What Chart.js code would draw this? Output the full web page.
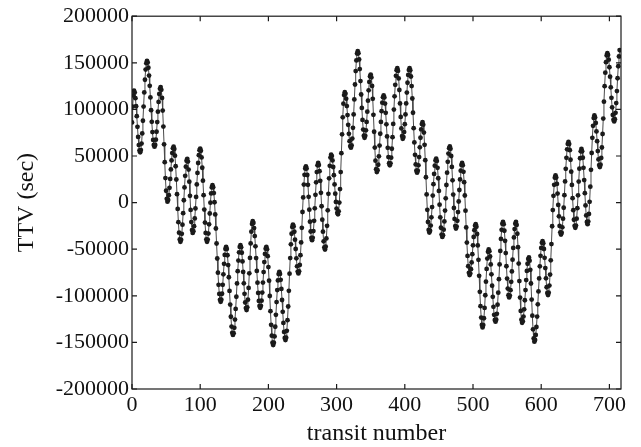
<!DOCTYPE html>
<html>
<head>
<meta charset="utf-8">
<script src="https://cdn.jsdelivr.net/npm/chart.js@4.4.1/dist/chart.umd.min.js"></script>
<style>
html,body{margin:0;padding:0;background:#ffffff;}
#wrap{width:641px;height:447px;position:relative;}
</style>
</head>
<body>
<div id="wrap"><canvas id="c" width="641" height="447"></canvas></div>
<script>
const xTickValues = [0, 100, 200, 300, 400, 500, 600, 700];
const yTickValues = [-200000, -150000, -100000, -50000, 0, 50000, 100000, 150000, 200000];
const xAxisTitle = 'transit number';
const yAxisTitle = 'TTV (sec)';

// TTV (sec) for transit numbers 0, 1, 2, ...
const ttvSeconds = [
  86000, 103000, 115000, 120000, 118000, 112000, 103500, 92700, 81300, 70500,
  61700, 56000, 54000, 56400, 63300, 74200, 87800, 103000, 118200, 131800,
  142700, 149600, 152000, 150200, 144700, 136300, 125300, 112800, 99200, 86700,
  75700, 67300, 61800, 60000, 61900, 67500, 76000, 86400, 97600, 108000,
  116500, 122100, 124000, 121000, 112300, 98700, 81600, 62500, 43400, 26300,
  12700, 4000, 1000, 2800, 7900, 15800, 25400, 35600, 45300, 53100,
  58200, 60000, 57600, 50300, 39000, 24800, 9000, -6800, -21000, -32300,
  -39600, -42000, -39900, -33500, -23700, -11300, 2500, 16300, 28700, 38500,
  44900, 47000, 44000, 35400, 22400, 7300, -7900, -20900, -29500, -32500,
  -30700, -25400, -17000, -6300, 6100, 19500, 31800, 42500, 50900, 56200,
  58000, 55600, 48500, 37400, 23500, 8000, -7500, -21400, -32500, -39600,
  -42000, -39700, -33200, -23300, -11700, -100, 9800, 16300, 18600, 16500,
  10200, 400, -12700, -27800, -43900, -60000, -75200, -88200, -98000, -104300,
  -106400, -104200, -97800, -88200, -77000, -65700, -56100, -49700, -47500, -49800,
  -56500, -67000, -80100, -94800, -109400, -122500, -133000, -139700, -142000, -140100,
  -134400, -125500, -114100, -101000, -86700, -73600, -62200, -53300, -47600, -45700,
  -47800, -53800, -63100, -74400, -86600, -97900, -107200, -113200, -115300, -112400,
  -104200, -91500, -75900, -59400, -43800, -31200, -22900, -20000, -21900, -27300,
  -35900, -46900, -59500, -73300, -85900, -96900, -105500, -110900, -112800, -110800,
  -105200, -96500, -85800, -74500, -63800, -55100, -49500, -47500, -50000, -57500,
  -69200, -83800, -100200, -116500, -131100, -142800, -150300, -152800, -150400, -143600,
  -133200, -120400, -106700, -93900, -83500, -76700, -74300, -76500, -82900, -92600,
  -104500, -117200, -129100, -138800, -145200, -147400, -144900, -137600, -126200, -111500,
  -94700, -76300, -59500, -44800, -33400, -26100, -23600, -25600, -31300, -39800,
  -49800, -59800, -68400, -74000, -76000, -73700, -66900, -56400, -42700, -27100,
  -10100, 5600, 19300, 29800, 36600, 38900, 36500, 29600, 19100, 6200,
  -7600, -20500, -31000, -37900, -40300, -37800, -30600, -19600, -6100, 8300,
  21800, 32800, 40000, 42500, 40300, 33700, 23400, 10500, -3900, -18300,
  -31200, -41500, -48100, -50300, -47300, -38400, -24900, -8300, 9400, 26000,
  39500, 48300, 51400, 49900, 45300, 38200, 29400, 19500, 9600, 700,
  -6400, -11000, -12500, -9400, 0, 14500, 32700, 53000, 73300, 91500,
  106100, 115400, 118500, 116700, 111500, 103600, 93900, 83500, 73800, 65900,
  60700, 58900, 61400, 68700, 80200, 94600, 110700, 126700, 141100, 152600,
  159900, 162400, 160200, 153600, 143300, 130400, 116000, 101600, 88700, 78400,
  71800, 69600, 71600, 77500, 86600, 97600, 109400, 120500, 129500, 135400,
  137400, 134300, 125200, 111300, 94200, 76000, 59000, 45000, 35900, 32800,
  34800, 40600, 49700, 61200, 73900, 86600, 98100, 107200, 113000, 115000,
  112800, 106200, 96300, 84000, 71000, 58800, 48800, 42300, 40000, 42100,
  48200, 57800, 70200, 84400, 99800, 114000, 126400, 136000, 142100, 144200,
  141300, 133200, 120800, 106400, 91900, 79600, 71400, 68500, 70300, 75700,
  84100, 94600, 106400, 118100, 128600, 137000, 142400, 144200, 142000, 135300,
  125000, 111700, 96400, 79900, 64600, 51300, 41000, 34300, 32100, 34200,
  40000, 48900, 59300, 69600, 78500, 84300, 86400, 83600, 75100, 62000,
  45500, 27200, 8800, -7700, -20800, -29300, -32100, -30200, -24600, -15800,
  -4800, 7500, 19800, 30800, 39600, 45200, 47100, 44600, 37300, 26100,
  12500, -2200, -15800, -27000, -34300, -36800, -34900, -29100, -20200, -8600,
  4600, 18900, 32100, 43700, 52600, 58400, 60300, 57700, 50000, 38300,
  23900, 8600, -5800, -17500, -25200, -27800, -25700, -19600, -10200, 1200,
  13500, 24900, 34300, 40400, 42500, 40100, 33000, 21900, 7600, -8700,
  -26600, -42900, -57200, -68300, -75400, -77800, -76200, -71400, -64200, -55300,
  -45800, -36900, -29600, -24800, -23200, -25900, -33700, -46000, -61400, -78600,
  -95700, -111100, -123400, -131200, -133900, -131400, -124100, -113000, -99400, -84800,
  -71200, -60100, -52800, -50300, -52200, -57700, -66300, -77000, -89100, -101100,
  -111800, -120400, -125900, -127800, -125700, -119300, -109500, -96700, -82200, -66300,
  -51800, -39000, -29200, -22800, -20700, -23100, -30200, -41000, -54200, -68300,
  -81500, -92200, -99300, -101700, -99800, -94000, -85000, -73800, -61200, -48600,
  -37400, -28400, -22600, -20700, -24000, -33400, -47800, -65400, -84200, -101900,
  -116200, -125700, -128900, -127200, -122300, -114500, -104800, -93900, -83100, -73300,
  -65600, -60600, -58900, -62300, -72100, -86800, -104100, -121300, -136000, -145800,
  -149200, -147400, -142000, -133500, -122300, -109200, -95300, -81400, -68400, -57100,
  -48600, -43200, -41400, -43600, -49800, -59300, -70300, -81300, -90800, -97000,
  -99200, -96600, -89000, -77200, -61900, -44500, -25400, -8000, 7300, 19100,
  26700, 29300, 26900, 20000, 9700, -2500, -14700, -25000, -31900, -34300,
  -32300, -26500, -17300, -5500, 8000, 22700, 36200, 48000, 57200, 63000,
  65000, 62800, 56200, 46000, 33200, 19000, 4700, -8100, -18400, -24900,
  -27100, -24600, -17200, -6000, 7800, 22600, 36400, 47600, 55000, 57500,
  55100, 48100, 37300, 24200, 10100, -3000, -13800, -20800, -23200, -20400,
  -12100, 800, 17100, 35200, 53200, 69500, 82400, 90700, 93500, 91400,
  85400, 76400, 65900, 55300, 46300, 40300, 38200, 40600, 47900, 59100,
  73600, 90200, 108300, 124900, 139400, 150700, 157900, 160300, 158500, 153400,
  145200, 135100, 123700, 112400, 102200, 94100, 88900, 87100, 89500, 96300,
  106800, 119700, 133400, 146300, 156800, 163600
];

const points = ttvSeconds.map((v, i) => ({ x: i, y: v }));

const serif = "'Liberation Serif', 'Times New Roman', serif";

const framePlugin = {
  id: 'frame',
  afterDatasetsDraw(chart) {
    const { ctx, chartArea: a, scales: { x, y } } = chart;
    ctx.save();
    ctx.strokeStyle = '#1a1a1a';
    ctx.lineWidth = 1.2;
    ctx.strokeRect(a.left, a.top, a.right - a.left, a.bottom - a.top);
    const L = 5;
    ctx.beginPath();
    xTickValues.forEach(v => {
      const px = x.getPixelForValue(v);
      ctx.moveTo(px, a.bottom); ctx.lineTo(px, a.bottom - L);
      ctx.moveTo(px, a.top); ctx.lineTo(px, a.top + L);
    });
    yTickValues.forEach(v => {
      const py = y.getPixelForValue(v);
      ctx.moveTo(a.left, py); ctx.lineTo(a.left + L, py);
      ctx.moveTo(a.right, py); ctx.lineTo(a.right - L, py);
    });
    ctx.stroke();
    ctx.restore();
  }
};

new Chart(document.getElementById('c'), {
  type: 'line',
  data: {
    datasets: [{
      data: points,
      borderColor: '#4a4a4a',
      borderWidth: 1,
      pointRadius: 2.4,
      pointBackgroundColor: '#1a1a1a',
      pointBorderColor: '#1a1a1a',
      pointBorderWidth: 0,
      tension: 0,
      fill: false
    }]
  },
  options: {
    responsive: false,
    animation: false,
    devicePixelRatio: 1,
    layout: { padding: { top: 15, right: 20, left: 0, bottom: 0 } },
    plugins: { legend: { display: false }, tooltip: { enabled: false } },
    scales: {
      x: {
        type: 'linear',
        min: 0,
        max: 717,
        afterBuildTicks: s => { s.ticks = xTickValues.map(v => ({ value: v })); },
        ticks: { font: { family: serif, size: 22 }, color: '#111', padding: 3, maxRotation: 0, autoSkip: false, includeBounds: false, callback: v => String(v) },
        grid: { display: false, drawTicks: false },
        border: { display: false },
        title: { display: true, text: xAxisTitle, color: '#111', font: { family: serif, size: 24, lineHeight: 1 }, padding: { top: 0, bottom: 1 } },
        afterFit: s => { s.height = 58; }
      },
      y: {
        type: 'linear',
        min: -200000,
        max: 200000,
        afterBuildTicks: s => { s.ticks = yTickValues.map(v => ({ value: v })); },
        ticks: { font: { family: serif, size: 22 }, color: '#111', padding: 3, autoSkip: false, includeBounds: false, callback: v => String(v) },
        grid: { display: false, drawTicks: false },
        border: { display: false },
        title: { display: true, text: yAxisTitle, color: '#111', font: { family: serif, size: 24, lineHeight: 1 }, padding: { top: 15, bottom: 0 } },
        afterFit: s => { s.width = 132; }
      }
    }
  },
  plugins: [framePlugin]
});
</script>
</body>
</html>
